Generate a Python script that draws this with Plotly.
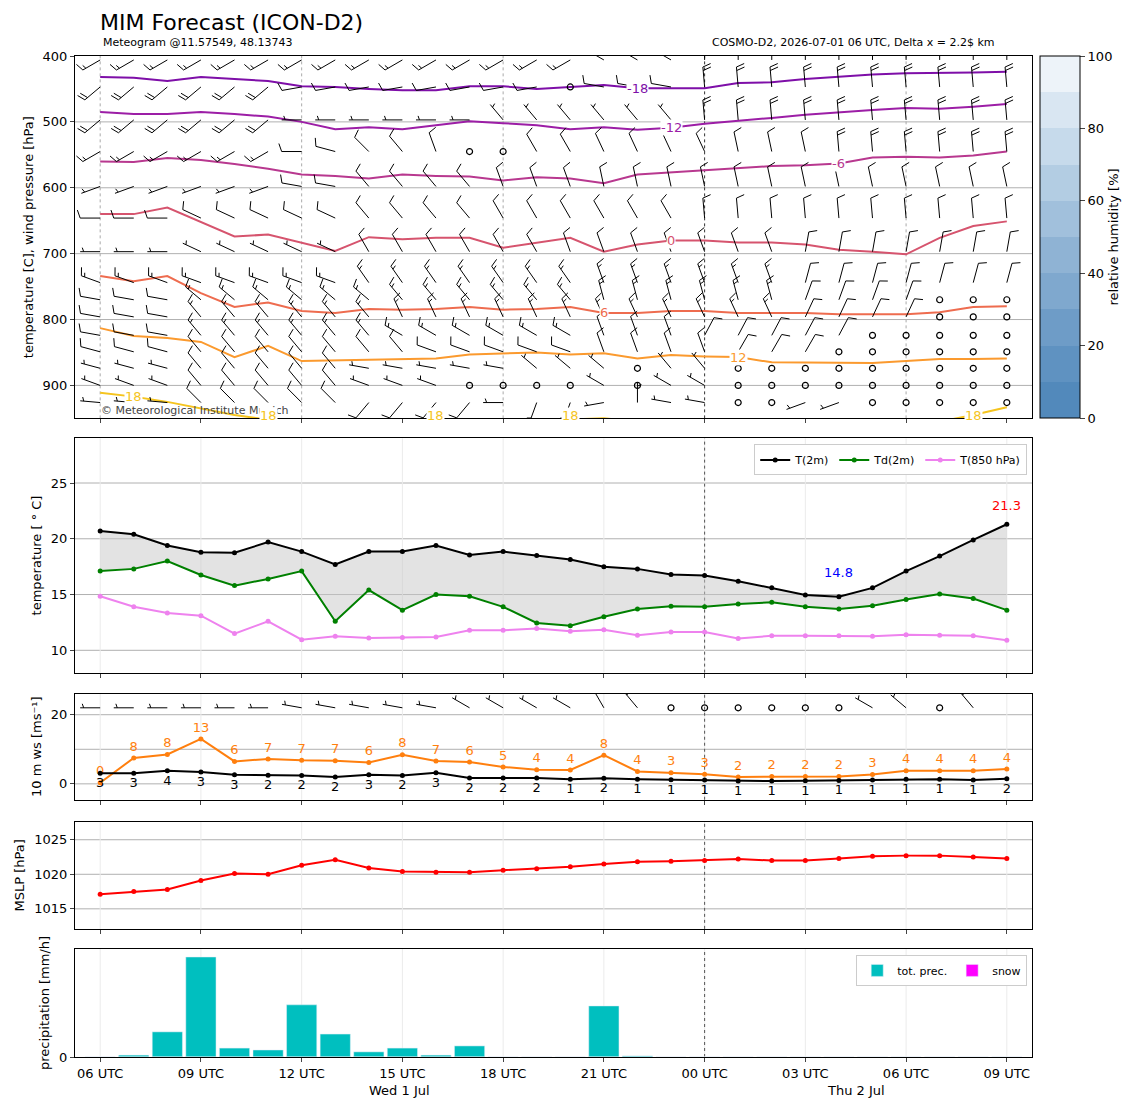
import numpy as np
import plotly.graph_objects as go

hours = list(range(28))
tick_hours = list(range(0, 28, 3))
tick_text = ["06 UTC", "09 UTC", "12 UTC", "15 UTC", "18 UTC", "21 UTC", "00 UTC", "03 UTC", "06 UTC", "09 UTC"]

# ---- near-surface series
t2m = [20.7, 20.4, 19.4, 18.8, 18.75, 19.7, 18.85, 17.7, 18.85, 18.85, 19.4, 18.55, 18.85, 18.5,
       18.15, 17.5, 17.3, 16.8, 16.7, 16.2, 15.6, 14.95, 14.8, 15.6, 17.1, 18.45, 19.9, 21.3]
td2m = [17.1, 17.3, 18.0, 16.75, 15.8, 16.4, 17.1, 12.6, 15.4, 13.6, 15.0, 14.85, 13.9, 12.45,
        12.2, 13.0, 13.7, 13.95, 13.9, 14.15, 14.3, 13.9, 13.7, 14.0, 14.55, 15.05, 14.65, 13.6]
t850 = [14.85, 13.9, 13.35, 13.1, 11.5, 12.6, 10.95, 11.25, 11.1, 11.15, 11.2, 11.8, 11.8, 11.95,
        11.7, 11.85, 11.35, 11.65, 11.65, 11.05, 11.3, 11.3, 11.3, 11.25, 11.4, 11.35, 11.3, 10.9]
gust = [0.3, 7.5, 8.5, 13.0, 6.5, 7.2, 6.8, 6.7, 6.2, 8.4, 6.6, 6.3, 4.9, 4.1,
        4.0, 8.3, 3.6, 3.2, 2.8, 2.0, 2.1, 2.1, 2.1, 2.7, 3.8, 3.8, 3.8, 4.3]
ws10 = [3.1, 3.1, 3.8, 3.4, 2.6, 2.5, 2.4, 2.0, 2.6, 2.4, 3.2, 1.7, 1.7, 1.7,
        1.3, 1.6, 1.3, 1.2, 1.1, 0.8, 0.8, 0.9, 1.0, 1.1, 1.3, 1.3, 1.1, 1.5]
mslp = [1017.1, 1017.5, 1017.8, 1019.1, 1020.1, 1020.0, 1021.3, 1022.1, 1020.9, 1020.4, 1020.3, 1020.3,
        1020.6, 1020.8, 1021.1, 1021.5, 1021.8, 1021.9, 1022.0, 1022.2, 1022.0, 1022.0, 1022.3, 1022.6,
        1022.7, 1022.7, 1022.5, 1022.3]
prec = [0, 0.07, 0.93, 3.7, 0.33, 0.26, 1.93, 0.85, 0.19, 0.33, 0.07, 0.41, 0, 0,
        0, 1.89, 0.04, 0, 0, 0, 0, 0, 0, 0, 0, 0, 0, 0]
snow = [0] * 28

# 10 m wind direction [deg] and speed [kt]
dir10 = [270] * 6 + [280] * 5 + [300] * 4 + [330, 320] + [0] * 6 + [300, 310, 0, 320]
spd10 = [8] * 6 + [6] * 5 + [5] * 4 + [5, 5] + [0] * 6 + [5, 5, 0, 5]

# ---- isotherms (pressure of each isotherm per hour)
iso_levels = [-18, -12, -6, 0, 6, 12, 18]
iso_colors = ["#7e0fa8", "#9c1ea6", "#b8388f", "#d6546e", "#ee6c4f", "#fb9a2e", "#f5c41e"]
iso_m18 = [432, 433, 438, 432, 435, 438, 446, 447, 450, 452, 452, 446, 446, 450, 447, 444, 449, 449,
           449, 441, 440, 435, 431, 428, 426, 426, 425, 424]
iso_m12 = [485, 488, 488, 485, 488, 492, 500, 511, 508, 511, 505, 499, 502, 505, 511, 508, 512, 509,
           503, 499, 494, 489, 485, 482, 479, 480, 477, 473]
iso_m6 = [560, 561, 555, 558, 564, 571, 580, 582, 586, 580, 582, 583, 589, 584, 586, 593, 580, 577,
          574, 570, 567, 566, 563, 554, 553, 554, 551, 545]
iso_0 = [640, 640, 630, 652, 674, 671, 684, 696, 675, 678, 676, 676, 691, 684, 676, 697, 686, 680,
         680, 683, 683, 686, 694, 697, 701, 676, 658, 651]
iso_6 = [734, 742, 734, 760, 781, 774, 787, 790, 784, 785, 784, 781, 785, 784, 781, 790, 790, 787,
         787, 790, 790, 790, 792, 792, 792, 789, 781, 780]
iso_12 = [813, 825, 828, 834, 857, 840, 863, 862, 862, 860, 859, 853, 851, 850, 853, 851, 859, 854,
          856, 857, 865, 865, 865, 866, 863, 860, 860, 859]
iso_18 = [911, 917, 925, 935, 945, 952, 955, 955, 955, 955, 955, 957, 955, 953, 951, 950, 955, 960,
          960, 960, 960, 960, 960, 960, 960, 955, 945, 933]
iso_data = [iso_m18, iso_m12, iso_m6, iso_0, iso_6, iso_12, iso_18]
# label positions (hour) per isotherm
iso_label_hours = [[16], [17], [22], [17], [15], [19], [1, 5, 10, 14, 26]]

# ---- wind profile (levels in hPa; direction deg, speed kt per hour)
levels = [406, 447, 497, 545, 598, 646, 697, 744, 770, 796, 824, 849, 874, 900, 926]
wdir = [
    [240] * 15 + [300] * 3 + [360] * 10,
    [230] * 6 + [260] * 8 + [0] + [280] * 3 + [355] * 10,
    [230] * 6 + [270] * 6 + [320] * 6 + [355] * 10,
    [240] * 6 + [270, 285, 315, 320, 340, 0, 0, 330, 330] + [335] * 4 + [348] * 3 + [355] * 6,
    [250] * 6 + [280] * 2 + [320] * 4 + [340] * 3 + [348] * 13,
    [270] * 3 + [295] * 5 + [320] * 4 + [330] * 6 + [355] * 10,
    [270] * 3 + [295] * 5 + [330] * 6 + [340] * 7 + [10] * 7,
    [290] * 8 + [325] * 7 + [340] * 6 + [15] * 7,
    [280] * 3 + [310] * 6 + [320] * 6 + [345] * 6 + [20] * 4 + [0] * 3,
    [280] * 3 + [320] * 6 + [335] * 12 + [25] * 4 + [0] * 3,
    [280] * 3 + [320] * 6 + [300] * 6 + [340] * 3 + [28] * 5 + [0] * 5,
    [285] * 3 + [320] * 7 + [290] * 5 + [340] * 4 + [30] * 3 + [0] * 6,
    [285] * 3 + [320] * 5 + [280] * 5 + [310] * 3 + [0, 320, 320, 0] + [0] * 8,
    [290] * 3 + [320] * 5 + [290] * 3 + [0] * 4 + [300, 0, 300, 300] + [0] * 9,
    [275] * 3 + [315] * 5 + [220] * 4 + [270, 200, 200, 260, 0, 280, 280] + [0, 0, 250, 250] + [0] * 5,
]
wspd = [
    [18] * 15 + [12] * 3 + [20] * 10,
    [20] * 6 + [12] * 8 + [0] + [10] * 3 + [22] * 10,
    [20] * 6 + [8] * 6 + [8] * 6 + [20] * 10,
    [15] * 6 + [10] * 5 + [0, 0] + [10] * 9 + [20] * 6,
    [8] * 6 + [10] * 22,
    [12] * 28,
    [6] * 3 + [8] * 5 + [10] * 20,
    [15] * 21 + [10] * 7,
    [12] * 3 + [15] * 18 + [10] * 4 + [0] * 3,
    [12] * 3 + [15] * 18 + [10] * 4 + [0] * 3,
    [12] * 3 + [15] * 12 + [10] * 8 + [0] * 5,
    [10] * 3 + [12] * 16 + [10] * 3 + [0] * 6,
    [6] * 3 + [12] * 5 + [6] * 8 + [0, 6, 6, 0] + [0] * 8,
    [5] * 3 + [12] * 5 + [6] * 3 + [0] * 4 + [6, 0, 6, 6] + [0] * 9,
    [6] * 3 + [12] * 5 + [10] * 4 + [6] * 7 + [0, 0, 6, 6] + [0] * 5,
]

FONT = "DejaVu Sans"
PX_PER_HOUR = 957 / 28.5


def barbs(xs, ys, dirs, spds, px_per_y, y_up_sign):
    sx, sy, cx, cy = [], [], [], []
    L, F, gap = 20.0, 8.0, 3.5
    for x0, y0, d, s in zip(xs, ys, dirs, spds):
        if s < 3:
            cx.append(x0)
            cy.append(y0)
            continue
        ux, uy = np.sin(np.radians(d)), np.cos(np.radians(d))
        px, py = uy, -ux

        def pt(ax, ay):
            return x0 + ax / PX_PER_HOUR, y0 + y_up_sign * ay / px_per_y

        tx, ty = ux * L, uy * L
        for p in [(0, 0), (tx, ty)]:
            a, b = pt(*p)
            sx.append(a)
            sy.append(b)
        sx.append(None)
        sy.append(None)
        n_full, n_half = int(s // 10), int((s % 10) >= 5)
        pos = 0.0
        for k in range(n_full + n_half):
            bx, by = tx - ux * pos, ty - uy * pos
            flen = F if k < n_full else F / 2
            if n_full == 0 and k == 0:
                pos += gap
                bx, by = tx - ux * pos, ty - uy * pos
            ex, ey = bx + px * flen + ux * flen * 0.35, by + py * flen + uy * flen * 0.35
            for p in [(bx, by), (ex, ey)]:
                a, b = pt(*p)
                sx.append(a)
                sy.append(b)
            sx.append(None)
            sy.append(None)
            pos += gap
    return sx, sy, cx, cy


fig = go.Figure()

# humidity colorbar
blues = ["#5289bb", "#5f92c1", "#6e9cc7", "#7fa8ce", "#8fb3d4", "#a1c0dc", "#b3cde3", "#c6daeb",
         "#d9e6f2", "#edf3f9"]
cscale = []
for i, c in enumerate(blues):
    cscale += [[i / 10, c], [(i + 1) / 10, c]]
fig.add_trace(go.Scatter(
    x=[None, None], y=[None, None], mode="markers", xaxis="x", yaxis="y", showlegend=False,
    marker=dict(color=[0, 100], cmin=0, cmax=100, colorscale=cscale, showscale=True,
                colorbar=dict(x=1.008, xanchor="left", y=1.0, yanchor="top", len=0.362,
                              thickness=40, thicknessmode="pixels", outlinewidth=1, outlinecolor="black",
                              xpad=0, ypad=0,
                              tickvals=[0, 20, 40, 60, 80, 100], ticks="outside",
                              tickfont=dict(size=13, family=FONT),
                              title=dict(text="relative humidity [%]", side="right",
                                         font=dict(size=13, family=FONT)))),
))

# isotherms
for lev, col, arr in zip(iso_levels, iso_colors, iso_data):
    fig.add_trace(go.Scatter(x=hours, y=arr, mode="lines", line=dict(color=col, width=2),
                             xaxis="x", yaxis="y", showlegend=False, cliponaxis=True))

# wind barbs profile
allx, ally, alld, alls = [], [], [], []
for lev, dl, sl in zip(levels, wdir, wspd):
    allx += hours
    ally += [lev] * 28
    alld += dl
    alls += sl
sx, sy, cx, cy = barbs(allx, ally, alld, alls, 0.658, -1)
fig.add_trace(go.Scatter(x=sx, y=sy, mode="lines", line=dict(color="black", width=1),
                         xaxis="x", yaxis="y", showlegend=False))
fig.add_trace(go.Scatter(x=cx, y=cy, mode="markers", xaxis="x", yaxis="y", showlegend=False,
                         marker=dict(symbol="circle-open", size=6, color="black", line=dict(width=1.2))))

# temperature panel
fig.add_trace(go.Scatter(x=hours, y=td2m, mode="lines", line=dict(width=0), xaxis="x2", yaxis="y2",
                         showlegend=False, hoverinfo="skip"))
fig.add_trace(go.Scatter(x=hours, y=t2m, mode="lines", line=dict(width=0), fill="tonexty",
                         fillcolor="rgba(200,200,200,0.5)", xaxis="x2", yaxis="y2", showlegend=False))
for name, arr, col in [("T(2m)", t2m, "black"), ("Td(2m)", td2m, "green"), ("T(850 hPa)", t850, "violet")]:
    fig.add_trace(go.Scatter(x=hours, y=arr, mode="lines+markers", name=name, line=dict(color=col, width=2),
                             marker=dict(size=5, color=col), xaxis="x2", yaxis="y2", legend="legend"))

# wind panel
fig.add_trace(go.Scatter(x=hours, y=gust, mode="lines+markers+text", text=[str(int(round(v))) for v in gust],
                         textposition="top center", textfont=dict(color="#ff7f0e", size=13, family=FONT),
                         line=dict(color="#ff7f0e", width=2), marker=dict(size=5, color="#ff7f0e"),
                         xaxis="x3", yaxis="y3", showlegend=False))
fig.add_trace(go.Scatter(x=hours, y=ws10, mode="lines+markers+text", text=[str(int(round(v))) for v in ws10],
                         textposition="bottom center", textfont=dict(color="black", size=13, family=FONT),
                         line=dict(color="black", width=2), marker=dict(size=5, color="black"),
                         xaxis="x3", yaxis="y3", showlegend=False))
sx, sy, cx, cy = barbs(hours, [22] * 28, dir10, spd10, 3.45, 1)
fig.add_trace(go.Scatter(x=sx, y=sy, mode="lines", line=dict(color="black", width=1),
                         xaxis="x3", yaxis="y3", showlegend=False))
fig.add_trace(go.Scatter(x=cx, y=cy, mode="markers", xaxis="x3", yaxis="y3", showlegend=False,
                         marker=dict(symbol="circle-open", size=6, color="black", line=dict(width=1.2))))

# mslp
fig.add_trace(go.Scatter(x=hours, y=mslp, mode="lines+markers", line=dict(color="red", width=2),
                         marker=dict(size=5, color="red"), xaxis="x4", yaxis="y4", showlegend=False))

# precipitation
fig.add_trace(go.Bar(x=hours, y=prec, name="tot. prec.", marker_color="#00bfbf", width=0.9,
                     xaxis="x5", yaxis="y5", legend="legend2"))
fig.add_trace(go.Bar(x=hours, y=snow, name="snow", marker_color="magenta", width=0.9,
                     xaxis="x5", yaxis="y5", legend="legend2"))

domains = [(0.638, 1.0), (0.384, 0.618), (0.257, 0.363), (0.128, 0.235), (0.0, 0.108)]
yranges = [[950, 400], [8, 29], [-4.6, 26.1], [1012.1, 1027.6], [0, 4.0]]
ytitles = ["temperature [C], wind pressure [hPa]", "temperature [ ° C]", "10 m ws [ms⁻¹]",
           "MSLP [hPa]", "precipitation [mm/h]"]
ytickvals = [[400, 500, 600, 700, 800, 900], [10, 15, 20, 25], [0, 20], [1015, 1020, 1025], [0]]
ygrid = [[500, 600, 700, 800, 900], [10, 15, 20, 25], [0, 10, 20], [1015, 1020, 1025], []]

# page body adds 8 px, so margins are shifted by 8
layout = dict(
    width=1148, height=1105, plot_bgcolor="white", paper_bgcolor="white",
    margin=dict(l=67, r=124, t=48, b=56, autoexpand=False), barmode="overlay", showlegend=True,
    font=dict(family=FONT, size=13, color="black"),
    legend=dict(x=0.995, y=0.612, xanchor="right", yanchor="top", orientation="h", traceorder="normal",
                bordercolor="#cccccc", borderwidth=1, font=dict(size=11)),
    legend2=dict(x=0.995, y=0.102, xanchor="right", yanchor="top", orientation="h", traceorder="normal",
                 bordercolor="#cccccc", borderwidth=1, font=dict(size=11)),
)
shapes = []
for i in range(5):
    n = "" if i == 0 else str(i + 1)
    layout["xaxis" + n] = dict(
        domain=[0, 1], anchor="y" + n, range=[-0.75, 27.75], tickvals=tick_hours, automargin=False,
        ticktext=tick_text if i == 4 else [""] * len(tick_hours), ticks="outside", ticklen=4,
        showline=True, mirror=True, linecolor="black", showgrid=False, zeroline=False,
        tickfont=dict(size=13),
    )
    layout["yaxis" + n] = dict(
        domain=list(domains[i]), anchor="x" + n, range=yranges[i], tickvals=ytickvals[i], automargin=False,
        ticks="outside", ticklen=4, showline=True, mirror=True, linecolor="black", showgrid=False,
        zeroline=False, title=dict(text=ytitles[i], font=dict(size=13), standoff=6),
        tickfont=dict(size=13),
    )
    xr, yr = "x" + n, "y" + n
    for g in ygrid[i]:
        shapes.append(dict(type="line", xref=xr + " domain", yref=yr, x0=0, x1=1, y0=g, y1=g,
                           line=dict(color="#b0b0b0", width=1), layer="below"))
    if i == 0:
        for h in [0, 6, 12, 24]:
            shapes.append(dict(type="line", xref=xr, yref=yr + " domain", x0=h, x1=h, y0=0, y1=1,
                               line=dict(color="#aaaaaa", width=1, dash="dot"), layer="below"))
        shapes.append(dict(type="line", xref=xr, yref=yr + " domain", x0=18, x1=18, y0=0, y1=1,
                           line=dict(color="#333333", width=1, dash="dot"), layer="below"))
    else:
        for h in tick_hours:
            shapes.append(dict(type="line", xref=xr, yref=yr + " domain", x0=h, x1=h, y0=0, y1=1,
                               line=dict(color="#ebebeb", width=1), layer="below"))
        shapes.append(dict(type="line", xref=xr, yref=yr + " domain", x0=18, x1=18, y0=0, y1=1,
                           line=dict(color="#555555", width=1, dash="dot"), layer="below"))
layout["shapes"] = shapes

ann = [
    dict(text="MIM Forecast (ICON-D2)", x=98, y=22, font=dict(size=22)),
    dict(text="Meteogram @11.57549, 48.13743", x=101, y=42, font=dict(size=11)),
    dict(text="COSMO-D2, 2026-07-01 06 UTC, Delta x = 2.2$ km", x=710, y=42, font=dict(size=11)),
]
annotations = []
for a in ann:
    annotations.append(dict(text=a["text"], xref="paper", yref="paper", x=(a["x"] - 75) / 957,
                            y=(1057 - a["y"]) / 1001, xanchor="left", yanchor="middle",
                            showarrow=False, font=a["font"]))
annotations.append(dict(text="© Meteorological Institute Munich", xref="x", yref="y", x=-0.05, y=938,
                        xanchor="left", yanchor="middle", showarrow=False,
                        font=dict(size=11, color="#444444")))
for lev, col, arr, lh in zip(iso_levels, iso_colors, iso_data, iso_label_hours):
    for h in lh:
        yv = min(arr[h], 946)
        annotations.append(dict(text=str(lev), x=h, y=yv, xref="x", yref="y", showarrow=False,
                                font=dict(size=13, color=col), bgcolor="white", borderpad=0))
annotations.append(dict(text="21.3", x=27, y=23.0, xref="x2", yref="y2", showarrow=False,
                        font=dict(size=13, color="red")))
annotations.append(dict(text="14.8", x=22, y=17.0, xref="x2", yref="y2", showarrow=False,
                        font=dict(size=13, color="blue")))
annotations.append(dict(text="Wed 1 Jul", x=8.9, y=-0.4, xref="x5", yref="y5 domain", showarrow=False,
                        font=dict(size=13)))
annotations.append(dict(text="Thu 2 Jul", x=22.5, y=-0.4, xref="x5", yref="y5 domain", showarrow=False,
                        font=dict(size=13)))
layout["annotations"] = annotations

fig.update_layout(**layout)
fig.write_html("out.html")
